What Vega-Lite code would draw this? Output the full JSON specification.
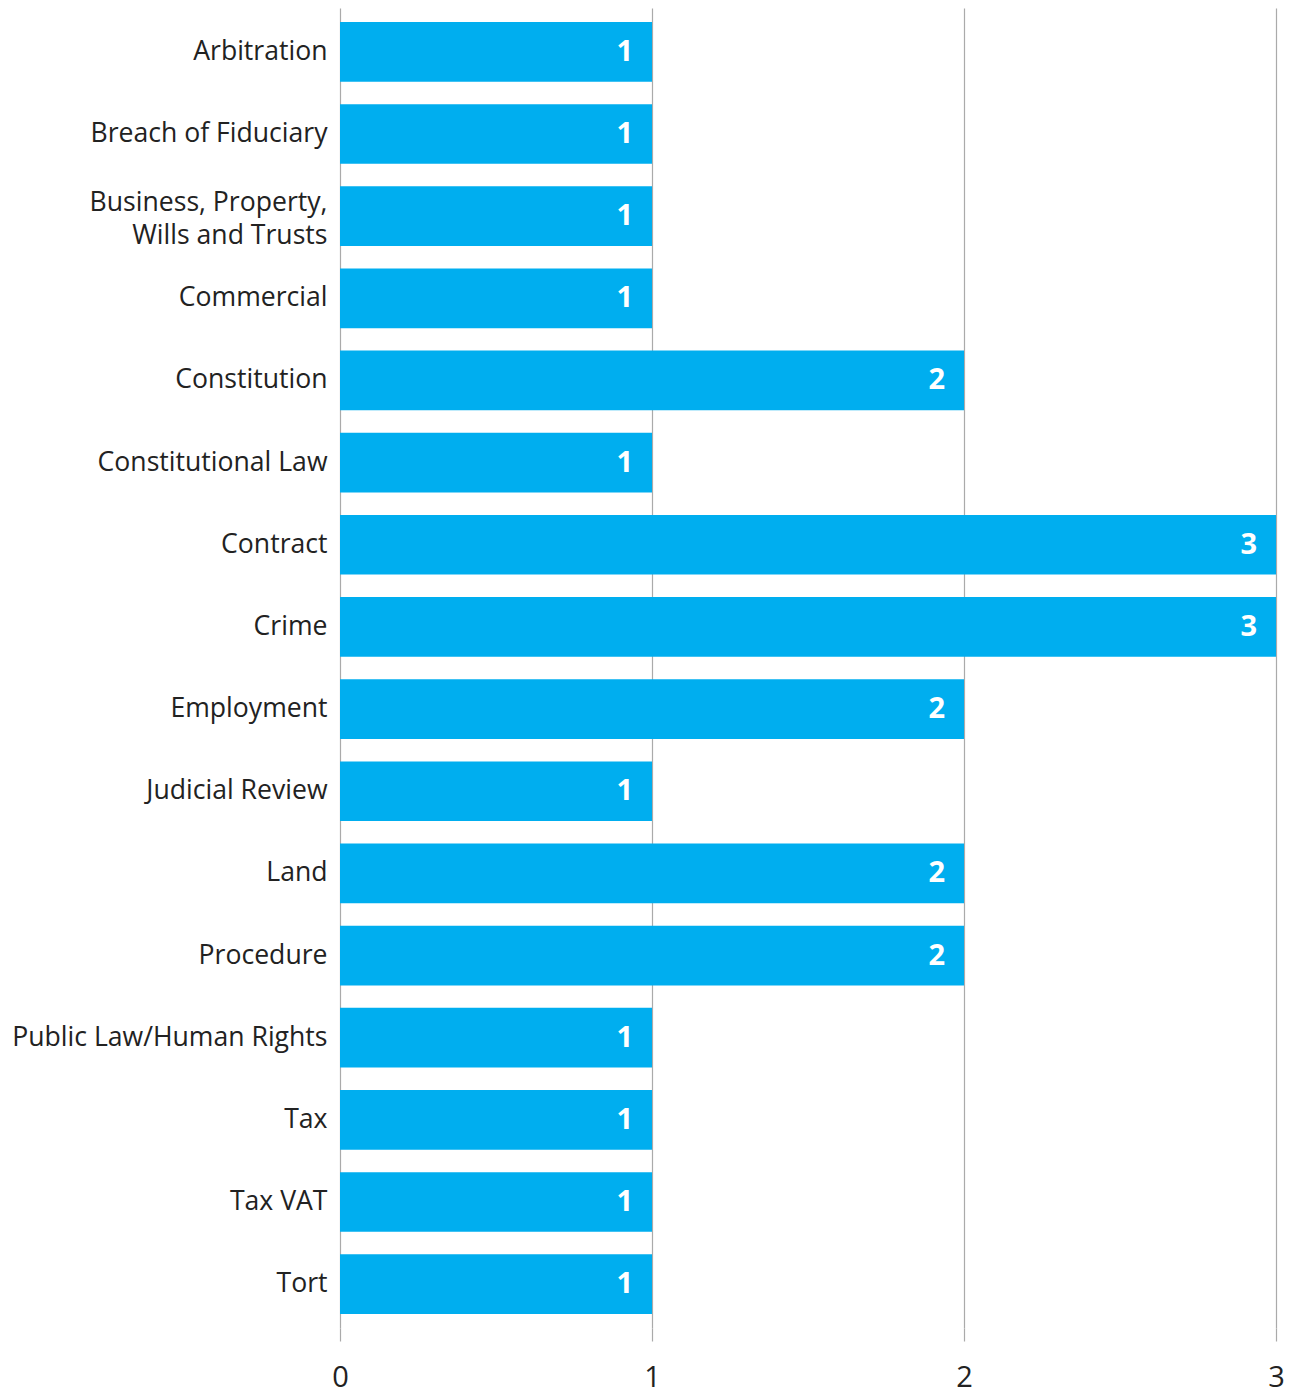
{
  "$schema": "https://vega.github.io/schema/vega-lite/v6.json",
  "autosize": "none",
  "padding": {"left": 340, "top": 8, "right": 19, "bottom": 65},
  "width": 936,
  "height": 1320,
  "background": "white",
  "config": {
    "view": {"stroke": null},
    "font": "Open Sans"
  },
  "data": {
    "values": [
      {"category": "Arbitration", "count": 1},
      {"category": "Breach of Fiduciary", "count": 1},
      {"category": "Business, Property,|Wills and Trusts", "count": 1},
      {"category": "Commercial", "count": 1},
      {"category": "Constitution", "count": 2},
      {"category": "Constitutional Law", "count": 1},
      {"category": "Contract", "count": 3},
      {"category": "Crime", "count": 3},
      {"category": "Employment", "count": 2},
      {"category": "Judicial Review", "count": 1},
      {"category": "Land", "count": 2},
      {"category": "Procedure", "count": 2},
      {"category": "Public Law/Human Rights", "count": 1},
      {"category": "Tax", "count": 1},
      {"category": "Tax VAT", "count": 1},
      {"category": "Tort", "count": 1}
    ]
  },
  "encoding": {
    "y": {
      "field": "category",
      "type": "nominal",
      "sort": null,
      "scale": {"paddingInner": 0.2735, "paddingOuter": 0.17},
      "axis": {
        "title": null,
        "domain": false,
        "ticks": false,
        "labelPadding": 13,
        "labelFontSize": 26.6,
        "labelColor": "#222222",
        "labelLineHeight": 33,
        "labelLimit": 400,
        "labelOffset": {"condition": {"test": "indexof(datum.value, '|') >= 0", "value": -13}, "value": 0},
        "labelExpr": "split(datum.label, '|')"
      }
    },
    "x": {
      "field": "count",
      "type": "quantitative",
      "scale": {"domain": [0, 3], "nice": false},
      "axis": {
        "title": null,
        "domain": false,
        "values": [0, 1, 2, 3],
        "grid": true,
        "gridColor": "#aaaaaa",
        "gridWidth": 1.2,
        "tickColor": "#aaaaaa",
        "tickWidth": 1.2,
        "tickSize": 13,
        "labelFlush": false,
        "labelPadding": 22,
        "labelFontSize": 29,
        "labelColor": "#222222",
        "format": "d"
      }
    }
  },
  "layer": [
    {
      "mark": {"type": "bar", "color": "#00AEEF"}
    },
    {
      "mark": {
        "type": "text",
        "align": "right",
        "baseline": "middle",
        "dx": -19,
        "color": "white",
        "fontWeight": "bold",
        "fontSize": 29
      },
      "encoding": {
        "text": {"field": "count", "type": "quantitative"}
      }
    }
  ]
}
